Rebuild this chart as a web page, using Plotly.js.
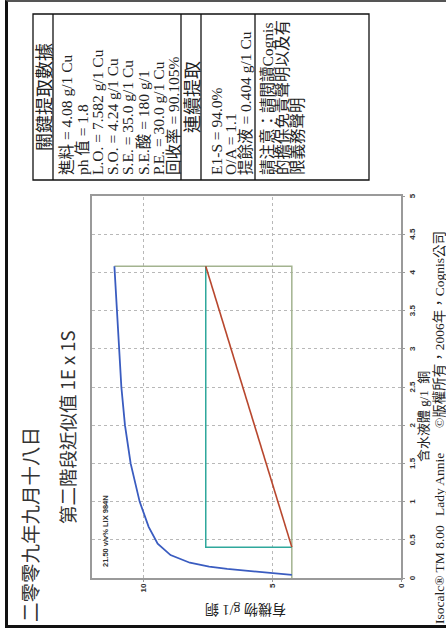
<!DOCTYPE html>
<html><head><meta charset="utf-8">
<script src="https://cdn.plot.ly/plotly-3.0.1.min.js"></script>
<style>
html,body{margin:0;padding:0;background:#fff;width:446px;height:629px;overflow:hidden}
#wrap{position:absolute;left:0;top:0;width:629px;height:446px;transform-origin:0 0;transform:translate(0,629px) rotate(-90deg);}
#chart{position:absolute;left:0;top:0;width:629px;height:446px}
#frame{position:absolute;left:1px;top:5px;width:628px;height:460px;border-left:3px solid #111;border-top:3px solid #111;border-right:2px solid #555;box-sizing:border-box;pointer-events:none}
</style></head>
<body>
<div id="wrap"><div id="chart"></div><div id="frame"></div></div>
<script>
// ---- data ----
const isoAqueous = [0.04, 0.06, 0.08, 0.10, 0.12, 0.15, 0.20, 0.30, 0.45, 0.67, 1.0, 1.5, 2.0, 2.5, 3.0, 3.5, 3.8, 4.08];
const isoOrganic = [4.24, 4.9, 5.4, 6.1, 6.75, 7.45, 8.2, 8.95, 9.45, 9.8, 10.15, 10.5, 10.72, 10.86, 10.95, 11.02, 11.08, 11.13];
const feedAq = 4.08;
const loadedOrg = 7.582;
const strippedOrg = 4.24;
const raffinateAq = 0.404;
const isoTopOrg = 11.13;

const titleMain = "二零零九年九月十八日";
const titleSub = "第二階段近似值 1E x 1S";
const xTitle = "含水液體 g/1  銅";
const yTitle = "有機物 g/1 銅";
const reagentLabel = "21.50 v/v% LIX 984N";
const tableHead1 = "關鍵提取數據";
const keyLines = ["進料 = 4.08 g/1 Cu", "ph 值 = 1.8", "L.O. = 7.582 g/1 Cu", "S.O. = 4.24 g/1 Cu",
  "S.E. = 35.0 g/1 Cu", "S.E.酸 = 180 g/1", "P.E. = 30.0 g/1 Cu", "回收率 = 90.105%"];
const tableHead2 = "連續提取";
const contLines = ["E1-S = 94.0%", "O/A = 1.1", "提餘液 = 0.404 g/1 Cu"];
const noteLines = ["請注意：請閱讀Cognis", "的擔保免責聲明以及有", "限義務聲明"];
const footerParts = ["Isocalc® TM 8.00", "Lady Annie", "©版權所有，2006年，Cognis公司"];

// ---- layout helpers (pixel -> paper) ----
const ML = 51, MR = 196, MT = 92, MB = 45, W = 629, H = 446;
const PW = W - ML - MR, PH = H - MT - MB;
const px = u => (u - ML) / PW;
const py = v => (H - MB - v) / PH;
const SERIF = "'Liberation Serif', 'Noto Sans CJK TC', serif";
const CJK = "'Noto Sans CJK TC', 'Liberation Serif', sans-serif";

function ann(text, u, v, size, opts) {
  return Object.assign({
    xref: 'paper', yref: 'paper', x: px(u), y: py(v), text: text, showarrow: false,
    xanchor: 'left', yanchor: 'middle', borderpad: 0,
    font: {family: SERIF, size: size, color: '#222'}
  }, opts || {});
}

const annotations = [];
annotations.push(ann(titleMain, 6, 29, 19.5, {font: {family: CJK, size: 19.5, color: '#333'}}));
annotations.push(ann(titleSub, 104, 67, 18.5, {font: {family: CJK, size: 18.5, color: '#333'}}));
annotations.push(ann(xTitle, 212, 423, 13, {xanchor: 'center'}));
annotations.push(ann(yTitle, 19, 246, 14, {xanchor: 'center', textangle: -90}));
annotations.push(ann(reagentLabel, 61, 105, 7.5, {font: {family: 'Liberation Sans, Arial, sans-serif', size: 7.5, color: '#333', weight: 'bold'}}));

// table
const TU0 = 449, TU1 = 615;
const rowLines = [53, 181, 201, 255];
annotations.push(ann(tableHead1, (TU0 + TU1) / 2, 43, 18, {xanchor: 'center', font: {family: CJK, size: 18, color: '#222'}}));
keyLines.forEach((t, i) => annotations.push(ann(t, 453, 67 + 15.2 * i, 15.5)));
annotations.push(ann(tableHead2, (TU0 + TU1) / 2, 191, 18, {xanchor: 'center', font: {family: CJK, size: 18, color: '#222'}}));
contLines.forEach((t, i) => annotations.push(ann(t, 453, 216 + 14.5 * i, 15.5)));
noteLines.forEach((t, i) => annotations.push(ann(t, 453, 267 + 15 * i, 15.5)));

// footer
const footerU = [4, 112, 200];
footerParts.forEach((t, i) => annotations.push(ann(t, footerU[i], 439.5, 13.5)));

const shapes = [{type: 'rect', xref: 'paper', yref: 'paper', x0: px(TU0), x1: px(TU1), y0: py(33), y1: py(369),
  line: {color: '#111', width: 1.3}}];
rowLines.forEach(v => shapes.push({type: 'line', xref: 'paper', yref: 'paper', x0: px(TU0), x1: px(TU1), y0: py(v), y1: py(v),
  line: {color: '#111', width: 1.3}}));

// ---- traces ----
const traces = [
  {x: [0, feedAq, feedAq], y: [strippedOrg, strippedOrg, isoTopOrg], mode: 'lines', line: {color: '#a3b38f', width: 1.5}},
  {x: [feedAq, raffinateAq, raffinateAq], y: [loadedOrg, loadedOrg, strippedOrg], mode: 'lines', line: {color: '#2fa89c', width: 1.5}},
  {x: [raffinateAq, feedAq], y: [strippedOrg, loadedOrg], mode: 'lines', line: {color: '#b8472e', width: 1.6}},
  {x: isoAqueous, y: isoOrganic, mode: 'lines', line: {color: '#3a5cc0', width: 1.8}}
];

const tickFont = {family: 'Liberation Sans, Arial, sans-serif', size: 8, color: '#333', weight: 'bold'};
const layout = {
  width: W, height: H, showlegend: false,
  margin: {l: ML, r: MR, t: MT, b: MB, pad: 0},
  paper_bgcolor: 'rgba(0,0,0,0)', plot_bgcolor: '#fff',
  xaxis: {range: [0, 5], dtick: 0.5, tick0: 0, showgrid: true, gridcolor: '#b8b8b8', griddash: '3px,3px', gridwidth: 1,
    zeroline: false, showline: true, mirror: true, linecolor: '#9a9a9a', linewidth: 2, automargin: false,
    ticks: 'outside', ticklen: 2, tickcolor: '#9a9a9a', tickfont: tickFont},
  yaxis: {range: [0, 12], dtick: 5, tick0: 0, showgrid: true, gridcolor: '#b8b8b8', griddash: '3px,3px', gridwidth: 1,
    zeroline: false, showline: true, mirror: true, linecolor: '#9a9a9a', linewidth: 2, automargin: false,
    ticks: 'outside', ticklen: 2, tickcolor: '#9a9a9a', tickfont: tickFont},
  annotations: annotations, shapes: shapes
};
Plotly.newPlot('chart', traces, layout, {staticPlot: true, displayModeBar: false});
</script>
</body></html>
